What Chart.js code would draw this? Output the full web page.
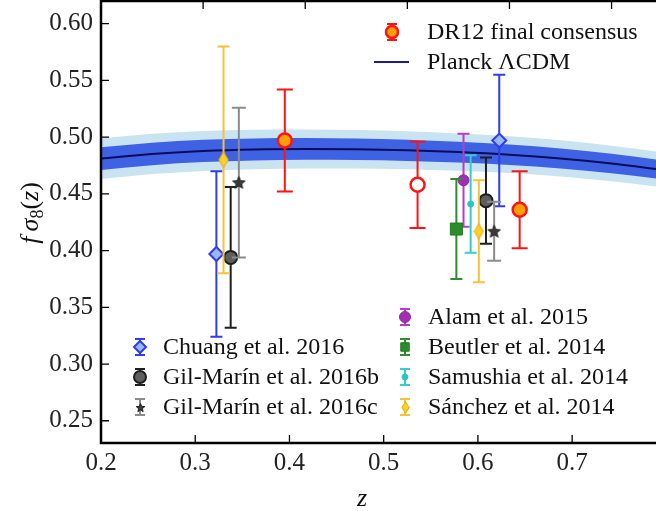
<!DOCTYPE html>
<html>
<head>
<meta charset="utf-8">
<script src="https://cdn.jsdelivr.net/npm/chart.js@4"></script>
<style>
html,body{margin:0;padding:0;background:#fff;}
#wrap{width:656px;height:511px;}
</style>
</head>
<body>
<div id="wrap"><canvas id="c" width="656" height="511"></canvas></div>
<script>
// ---- values ----
const planckZ   = [0.20, 0.25, 0.30, 0.35, 0.40, 0.45, 0.50, 0.55, 0.60, 0.65, 0.70, 0.75];
const planckF   = [0.481, 0.4852, 0.4878, 0.4892, 0.4896, 0.4893, 0.4884, 0.4868, 0.4845, 0.4812, 0.4768, 0.4712];
const planckIn  = [0.0100, 0.0099, 0.0098, 0.0097, 0.0096, 0.0095, 0.0094, 0.0092, 0.0090, 0.0088, 0.0086, 0.0084];
const planckOut = [0.0180, 0.0178, 0.0176, 0.0174, 0.0172, 0.0170, 0.0168, 0.0165, 0.0162, 0.0160, 0.0157, 0.0154];

const dr12Z = [0.38, 0.51, 0.61],  dr12F = [0.497, 0.458, 0.436],  dr12E = [0.045, 0.038, 0.034];
const chuangZ = [0.313, 0.590],    chuangF = [0.397, 0.497],       chuangE = [0.073, 0.058];
const gmBZ = [0.327, 0.577],       gmBF = [0.394, 0.444],          gmBE = [0.062, 0.038];
const gmCZ = [0.335, 0.585],       gmCF = [0.460, 0.417],          gmCE = [0.066, 0.026];
const alamZ = [0.555],             alamF = [0.462],                alamE = [0.041];
const beutlerZ = [0.548],          beutlerF = [0.419],             beutlerE = [0.044];
const samushiaZ = [0.562],         samushiaF = [0.441],            samushiaE = [0.043];
const sanchezZ = [0.320, 0.570],   sanchezF = [0.480, 0.417],      sanchezE = [0.100, 0.045];

const zTickLabels = [0.2, 0.3, 0.4, 0.5, 0.6, 0.7];
const zTopTicks   = [0.3, 0.4, 0.5, 0.6, 0.7];
const fTickLabels = [0.25, 0.30, 0.35, 0.40, 0.45, 0.50, 0.55, 0.60];

const legendTop   = ['DR12 final consensus', 'Planck \u039BCDM'];
const legendLeft  = ['Chuang et al. 2016', 'Gil-Mar\u00EDn et al. 2016b', 'Gil-Mar\u00EDn et al. 2016c'];
const legendRight = ['Alam et al. 2015', 'Beutler et al. 2014', 'Samushia et al. 2014', 'S\u00E1nchez et al. 2014'];

// ---- marker images ----
function starImg(size, fill, stroke) {
  const c = document.createElement('canvas'); c.width = c.height = size;
  const g = c.getContext('2d');
  const r = size / 2 - 1, ri = r * 0.45, cx = size / 2, cy = size / 2 + 0.5;
  g.beginPath();
  for (let k = 0; k < 10; k++) {
    const a = -Math.PI / 2 + k * Math.PI / 5, rr = k % 2 ? ri : r;
    g.lineTo(cx + rr * Math.cos(a), cy + rr * Math.sin(a));
  }
  g.closePath(); g.fillStyle = fill; g.fill();
  g.strokeStyle = stroke; g.lineWidth = 1; g.stroke();
  return c;
}
function thinDiamondImg(w, h, fill, stroke) {
  const c = document.createElement('canvas'); c.width = w; c.height = h;
  const g = c.getContext('2d');
  g.beginPath(); g.moveTo(w / 2, 1); g.lineTo(w - 1, h / 2); g.lineTo(w / 2, h - 1); g.lineTo(1, h / 2); g.closePath();
  g.fillStyle = fill; g.fill(); g.strokeStyle = stroke; g.lineWidth = 1.2; g.stroke();
  return c;
}
const starBig = starImg(15, '#3a3a3a', '#222');
const starSmall = starImg(11, '#3a3a3a', '#222');
const diaBig = thinDiamondImg(11, 17, '#ffd21f', '#f0b020');
const diaSmall = thinDiamondImg(9, 13, '#ffd21f', '#f0b020');

const pts = (zs, fs) => zs.map((z, i) => ({x: z, y: fs[i]}));
const band = (sign, w) => planckZ.map((z, i) => ({x: z, y: planckF[i] + sign * w[i]}));

function series(label, zs, fs, es, o) {
  return Object.assign({
    type: 'scatter', label, data: pts(zs, fs), errs: es, xAxisID: 'x', yAxisID: 'y', order: 1
  }, o);
}

const datasets = [
  {type: 'line', data: band(1, planckOut), xAxisID: 'x', fill: '+1', backgroundColor: '#c9e3f1', borderWidth: 0, pointRadius: 0, cubicInterpolationMode: 'monotone', order: 20},
  {type: 'line', data: band(-1, planckOut), xAxisID: 'x', fill: false, borderWidth: 0, pointRadius: 0, cubicInterpolationMode: 'monotone', order: 20},
  {type: 'line', data: band(1, planckIn), xAxisID: 'x', fill: '+1', backgroundColor: '#3f62e4', borderWidth: 0, pointRadius: 0, cubicInterpolationMode: 'monotone', order: 19},
  {type: 'line', data: band(-1, planckIn), xAxisID: 'x', fill: false, borderWidth: 0, pointRadius: 0, cubicInterpolationMode: 'monotone', order: 19},
  {type: 'line', label: legendTop[1], data: pts(planckZ, planckF), xAxisID: 'x', fill: false, borderColor: '#0c0c5a', borderWidth: 2, pointRadius: 0, cubicInterpolationMode: 'monotone', order: 18},

  series(legendRight[3], sanchezZ, sanchezF, sanchezE, {pointStyle: diaBig, pointRadius: 8, errColor: '#f6c238', capHalf: 6, errWidth: 2, legStyle: diaSmall}),
  series(legendLeft[2], gmCZ, gmCF, gmCE, {pointStyle: starBig, pointRadius: 7, errColor: '#8c8c8c', capHalf: 7, errWidth: 2, legStyle: starSmall}),
  series(legendLeft[0], chuangZ, chuangF, chuangE, {pointStyle: 'rectRot', pointRadius: 7, backgroundColor: '#9ab8ff', borderColor: '#2f3cf0', borderWidth: 2, errColor: '#2f3cf0', capHalf: 6, errWidth: 2}),
  series(legendLeft[1], gmBZ, gmBF, gmBE, {pointStyle: 'circle', pointRadius: 6.5, backgroundColor: '#5e5e5e', borderColor: '#1e1e1e', borderWidth: 2, errColor: '#1e1e1e', capHalf: 6, errWidth: 2}),
  series(legendRight[1], beutlerZ, beutlerF, beutlerE, {pointStyle: 'rect', pointRadius: 8.5, backgroundColor: '#2a8c2a', borderColor: '#237a23', borderWidth: 1, errColor: '#2e8e2e', capHalf: 6, errWidth: 2}),
  series(legendRight[0], alamZ, alamF, alamE, {pointStyle: 'circle', pointRadius: 5.5, backgroundColor: '#a32db5', borderColor: '#8e2aa0', borderWidth: 1, errColor: '#b63dc4', capHalf: 6, errWidth: 2}),
  series(legendRight[2], samushiaZ, samushiaF, samushiaE, {pointStyle: 'circle', pointRadius: 3, backgroundColor: '#2cc4c4', borderColor: '#2cc4c4', borderWidth: 1, errColor: '#35cccc', capHalf: 6, errWidth: 2}),
  series(legendTop[0], dr12Z, dr12F, dr12E, {pointStyle: 'circle', pointRadius: 7, backgroundColor: ['#ffa00a', '#ffffff', '#ffa00a'], borderColor: '#ff1414', borderWidth: 2.5, errColor: '#ff1414', capHalf: 8, errWidth: 2, legFill: '#ffa00a'})
];

const SERIF = '"Liberation Serif", "DejaVu Serif", serif';

// error bars are drawn just before each series' own markers
const errorBars = {
  id: 'errorBars',
  beforeDatasetDraw(chart, args) {
    const ds = chart.data.datasets[args.index];
    if (!ds.errs) return;
    const {ctx} = chart, xs = chart.scales.x, ys = chart.scales.y;
    ctx.save();
    ctx.strokeStyle = ds.errColor; ctx.lineWidth = ds.errWidth;
    ds.data.forEach((p, i) => {
      const px = xs.getPixelForValue(p.x);
      const t = ys.getPixelForValue(p.y + ds.errs[i]), b = ys.getPixelForValue(p.y - ds.errs[i]);
      ctx.beginPath();
      ctx.moveTo(px, t); ctx.lineTo(px, b);
      ctx.moveTo(px - ds.capHalf, t); ctx.lineTo(px + ds.capHalf, t);
      ctx.moveTo(px - ds.capHalf, b); ctx.lineTo(px + ds.capHalf, b);
      ctx.stroke();
    });
    ctx.restore();
  }
};

function legendMarker(ctx, ds, x, y) {
  ctx.save();
  ctx.strokeStyle = ds.errColor; ctx.lineWidth = 2;
  const h = 8, c = 5;
  ctx.beginPath();
  ctx.moveTo(x, y - h); ctx.lineTo(x, y + h);
  ctx.moveTo(x - c, y - h); ctx.lineTo(x + c, y - h);
  ctx.moveTo(x - c, y + h); ctx.lineTo(x + c, y + h);
  ctx.stroke();
  if (ds.legStyle) {
    const im = ds.legStyle;
    ctx.drawImage(im, Math.round(x - im.width / 2), Math.round(y - im.height / 2));
  } else {
    const bg = Array.isArray(ds.backgroundColor) ? ds.legFill : ds.backgroundColor;
    ctx.fillStyle = bg; ctx.strokeStyle = ds.borderColor;
    ctx.lineWidth = ds.borderWidth;
    Chart.helpers.drawPoint(ctx, {pointStyle: ds.pointStyle, radius: Math.min(ds.pointRadius, 6), rotation: 0, borderWidth: ds.borderWidth}, x, y);
  }
  ctx.restore();
}

const frame = {
  id: 'frame',
  afterDatasetsDraw(chart) {
    const {ctx, chartArea: a} = chart;
    const xs = chart.scales.x, xb = chart.scales.xb, ys = chart.scales.y;
    ctx.save();
    ctx.strokeStyle = '#000'; ctx.lineWidth = 2.5; ctx.lineCap = 'square';
    ctx.beginPath();
    ctx.moveTo(a.left, a.top); ctx.lineTo(a.left, a.bottom); ctx.lineTo(a.right + 2, a.bottom);
    ctx.moveTo(a.left, a.top); ctx.lineTo(a.right + 2, a.top);
    ctx.stroke();
    ctx.lineWidth = 1.3; ctx.lineCap = 'butt';
    ctx.beginPath();
    fTickLabels.forEach(v => { const y = ys.getPixelForValue(v); ctx.moveTo(a.left, y); ctx.lineTo(a.left + 8, y); });
    zTickLabels.forEach(v => { const x = xb.getPixelForValue(v); ctx.moveTo(x, a.bottom); ctx.lineTo(x, a.bottom - 8); });
    zTopTicks.forEach(v => { const x = xs.getPixelForValue(v); ctx.moveTo(x, a.top); ctx.lineTo(x, a.top + 8); });
    ctx.stroke();
    ctx.restore();
  },
  afterDraw(chart) {
    const {ctx} = chart, dsets = chart.data.datasets;
    const byLabel = l => dsets.find(d => d.label === l);
    ctx.save();
    ctx.fillStyle = '#111';
    ctx.font = '24px ' + SERIF;
    ctx.textBaseline = 'middle';
    // top-right legend
    legendMarker(ctx, byLabel(legendTop[0]), 392, 32);
    ctx.fillText(legendTop[0], 427, 33);
    ctx.strokeStyle = '#1c1c8c'; ctx.lineWidth = 2;
    ctx.beginPath(); ctx.moveTo(374, 62); ctx.lineTo(409, 62); ctx.stroke();
    ctx.fillText(legendTop[1], 427, 63);
    // lower legends
    legendLeft.forEach((l, i) => {
      legendMarker(ctx, byLabel(l), 140, 347 + i * 30);
      ctx.fillText(l, 163, 348 + i * 30);
    });
    legendRight.forEach((l, i) => {
      legendMarker(ctx, byLabel(l), 405, 317 + i * 30);
      ctx.fillText(l, 428, 318 + i * 30);
    });
    // axis titles
    ctx.textBaseline = 'alphabetic';
    ctx.textAlign = 'center';
    ctx.font = 'italic 26px ' + SERIF;
    ctx.fillText('z', 362, 506);
    ctx.translate(38, 213);
    ctx.rotate(-Math.PI / 2);
    const parts = [
      ['italic 26px ', 'f\u2009', 0], ['italic 26px ', '\u03C3', 0], ['18px ', '8', 5],
      ['26px ', '(', 0], ['italic 26px ', 'z', 0], ['26px ', ')', 0]
    ];
    let total = 0;
    parts.forEach(p => { ctx.font = p[0] + SERIF; total += ctx.measureText(p[1]).width; });
    let cx = -total / 2;
    ctx.textAlign = 'left';
    parts.forEach(p => {
      ctx.font = p[0] + SERIF;
      ctx.fillText(p[1], cx, p[2]);
      cx += ctx.measureText(p[1]).width;
    });
    ctx.restore();
  }
};

const tickFont = {family: SERIF, size: 25};
const noPad = s => { s.paddingLeft = 0; s.paddingRight = 0; s.paddingTop = 0; s.paddingBottom = 0; };

new Chart(document.getElementById('c'), {
  type: 'scatter',
  data: {datasets},
  options: {
    responsive: false,
    devicePixelRatio: 1,
    animation: false,
    events: [],
    layout: {autoPadding: false, padding: {top: 1, right: 0, left: 0, bottom: 0}},
    plugins: {legend: {display: false}, tooltip: {enabled: false}},
    scales: {
      x: {type: 'linear', position: 'top', display: false, min: 0.2, max: 0.7435},
      xb: {
        type: 'linear', position: 'bottom', min: 0.2, max: 0.789,
        afterBuildTicks: s => { s.ticks = zTickLabels.map(v => ({value: v})); },
        afterFit: s => { s.height = 68; noPad(s); },
        grid: {display: false, drawTicks: false}, border: {display: false},
        ticks: {font: tickFont, color: '#222', padding: 5, autoSkip: false, maxRotation: 0, callback: v => v.toFixed(1)}
      },
      y: {
        type: 'linear', position: 'left', min: 0.2304, max: 0.62,
        afterBuildTicks: s => { s.ticks = fTickLabels.map(v => ({value: v})); },
        afterFit: s => { s.width = 101; noPad(s); },
        grid: {display: false, drawTicks: false}, border: {display: false},
        ticks: {font: tickFont, color: '#222', padding: 8, autoSkip: false, callback: v => v.toFixed(2)}
      }
    }
  },
  plugins: [errorBars, frame]
});
</script>
</body>
</html>
